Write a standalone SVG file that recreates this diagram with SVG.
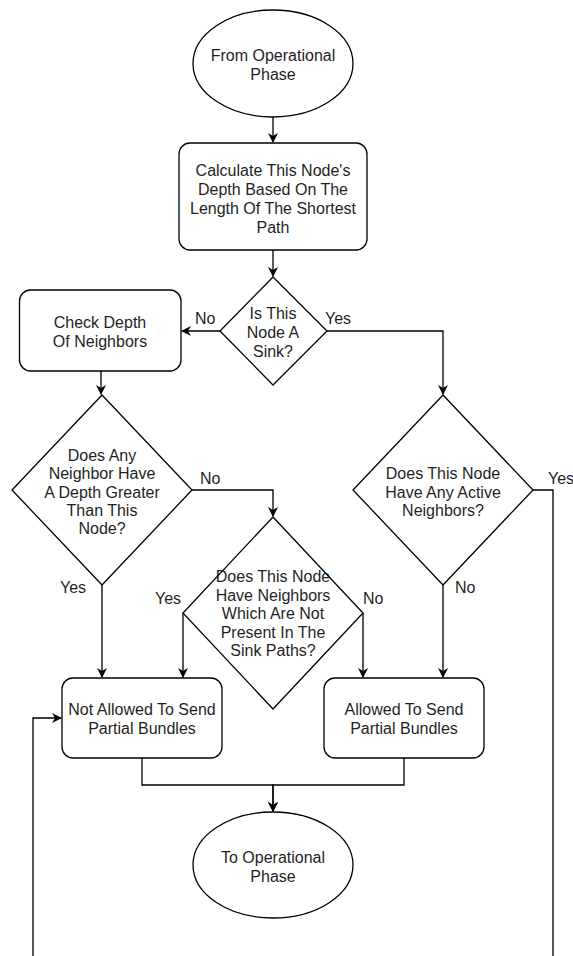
<svg xmlns="http://www.w3.org/2000/svg" width="573" height="956" viewBox="0 0 573 956">
  <style>
    .shape { fill: #ffffff; stroke: #000000; stroke-width: 1.3; }
    .edge { fill: none; stroke: #000000; stroke-width: 1.3; }
    text { font-family: "Liberation Sans", Arial, Helvetica, sans-serif; font-size: 16px; fill: #1f1f1f; }
    .c { text-anchor: middle; }
  </style>
  <defs>
    <marker id="arrow" viewBox="0 0 10 10" refX="9" refY="5" markerWidth="10" markerHeight="10" markerUnits="userSpaceOnUse" orient="auto">
      <path d="M0,0 L10,5 L0,10 L3,5 Z" fill="#000000"/>
    </marker>
  </defs>

  <rect width="573" height="956" fill="#ffffff"/>

  <!-- connectors -->
  <g id="connectors">
    <path class="edge" d="M273,117 L273,142" marker-end="url(#arrow)"/>
    <path class="edge" d="M273,250 L273,276" marker-end="url(#arrow)"/>
    <path class="edge" d="M220,331 L182,331" marker-end="url(#arrow)"/>
    <path class="edge" d="M327,331 L443,331 L443,394" marker-end="url(#arrow)"/>
    <path class="edge" d="M101,371 L101,394" marker-end="url(#arrow)"/>
    <path class="edge" d="M192,490 L273,490 L273,516" marker-end="url(#arrow)"/>
    <path class="edge" d="M102,585 L102,677" marker-end="url(#arrow)"/>
    <path class="edge" d="M183,613 L183,677" marker-end="url(#arrow)"/>
    <path class="edge" d="M363,613 L363,677" marker-end="url(#arrow)"/>
    <path class="edge" d="M443,585 L443,677" marker-end="url(#arrow)"/>
    <path class="edge" d="M533,490 L553,490 L553,975 L33,975 L33,718 L61,718" marker-end="url(#arrow)"/>
    <path class="edge" d="M142,758 L142,785 L273,785 L273,811" marker-end="url(#arrow)"/>
    <path class="edge" d="M404,758 L404,785 L273,785 L273,811" marker-end="url(#arrow)"/>

    <!-- branch labels -->
    <text x="195" y="324">No</text>
    <text x="325" y="324">Yes</text>
    <text x="200" y="484">No</text>
    <text x="60" y="593">Yes</text>
    <text x="155" y="604">Yes</text>
    <text x="363" y="604">No</text>
    <text x="548" y="484">Yes</text>
    <text x="455" y="593">No</text>
  </g>

  <!-- start terminal -->
  <g id="start">
    <ellipse class="shape" cx="273" cy="63.5" rx="80" ry="53.5"/>
    <text class="c" x="273" y="61">From Operational</text>
    <text class="c" x="273" y="79.5">Phase</text>
  </g>

  <g id="calc-depth">
    <rect class="shape" x="179" y="143" width="188" height="107" rx="11" ry="11"/>
    <text class="c" x="273" y="176">Calculate This Node's</text>
    <text class="c" x="273" y="195">Depth Based On The</text>
    <text class="c" x="273" y="214">Length Of The Shortest</text>
    <text class="c" x="273" y="232.5">Path</text>
  </g>

  <g id="is-sink">
    <path class="shape" d="M273,277 L327,331 L273,385 L220,331 Z"/>
    <text class="c" x="273" y="318.5">Is This</text>
    <text class="c" x="273" y="337.5">Node A</text>
    <text class="c" x="273" y="356.5">Sink?</text>
  </g>

  <g id="check-depth">
    <rect class="shape" x="19.5" y="290" width="161.5" height="81" rx="11" ry="11"/>
    <text class="c" x="100" y="327.5">Check Depth</text>
    <text class="c" x="100" y="346.5">Of Neighbors</text>
  </g>

  <g id="deeper-neighbor">
    <path class="shape" d="M102,395 L192,490 L102,585 L12,490 Z"/>
    <text class="c" x="102" y="461">Does Any</text>
    <text class="c" x="102" y="479">Neighbor Have</text>
    <text class="c" x="102" y="497.5">A Depth Greater</text>
    <text class="c" x="102" y="516">Than This</text>
    <text class="c" x="102" y="534">Node?</text>
  </g>

  <g id="outside-neighbors">
    <path class="shape" d="M273,517 L363,613 L273,709 L183,613 Z"/>
    <text class="c" x="273" y="582">Does This Node</text>
    <text class="c" x="273" y="600.5">Have Neighbors</text>
    <text class="c" x="273" y="619">Which Are Not</text>
    <text class="c" x="273" y="637.5">Present In The</text>
    <text class="c" x="273" y="656">Sink Paths?</text>
  </g>

  <g id="active-neighbors">
    <path class="shape" d="M443,395 L533,490 L443,585 L353,490 Z"/>
    <text class="c" x="443" y="479">Does This Node</text>
    <text class="c" x="443" y="497.5">Have Any Active</text>
    <text class="c" x="443" y="516">Neighbors?</text>
  </g>

  <g id="not-allowed">
    <rect class="shape" x="62" y="678" width="160" height="80" rx="11" ry="11"/>
    <text class="c" x="142" y="715">Not Allowed To Send</text>
    <text class="c" x="142" y="734">Partial Bundles</text>
  </g>

  <g id="allowed">
    <rect class="shape" x="324" y="678" width="160" height="80" rx="11" ry="11"/>
    <text class="c" x="404" y="715">Allowed To Send</text>
    <text class="c" x="404" y="734">Partial Bundles</text>
  </g>

  <!-- end terminal -->
  <g id="end">
    <ellipse class="shape" cx="273" cy="865" rx="80" ry="53"/>
    <text class="c" x="273" y="863">To Operational</text>
    <text class="c" x="273" y="881.5">Phase</text>
  </g>
</svg>
